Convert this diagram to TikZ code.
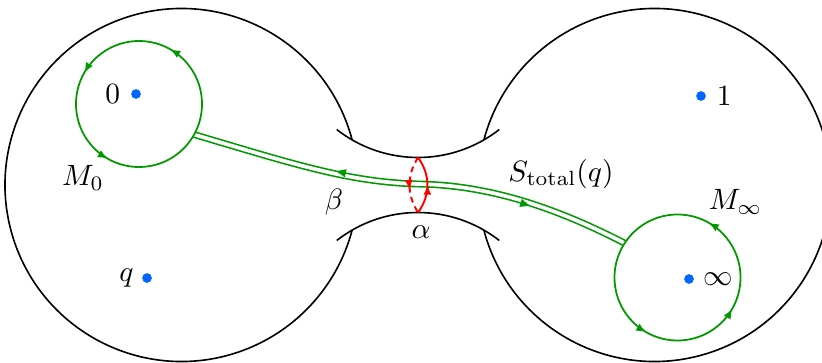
\documentclass[tikz,border=0pt]{standalone}
\usetikzlibrary{arrows.meta,decorations.markings}
\definecolor{mygreen}{RGB}{0,153,0}
\definecolor{myblue}{RGB}{0,102,255}
\tikzset{
  boundary/.style={black,line width=0.55pt},
  loopline/.style={color=mygreen,line width=0.6pt},
  dotnode/.style={circle,fill=myblue,inner sep=0pt,minimum size=3.3pt},
  gt/.tip={Latex[length=3.3pt,width=2.8pt]},
}
\begin{document}
\begin{tikzpicture}[x=0.34pt,y=0.34pt]
\clip (0,0) rectangle (822,362);
% big spheres
\draw[boundary] (181.5,177) ++(14.8:176.5) arc[start angle=14.8,end angle=345.2,radius=176.5];
\draw[boundary] (654.5,177) ++(-165.2:176.5) arc[start angle=-165.2,end angle=165.2,radius=176.5];
% neck
\draw[boundary] (418,336.5) ++(232:132) arc[start angle=232,end angle=308,radius=132];
\draw[boundary] (418,17.5) ++(128:132) arc[start angle=128,end angle=52,radius=132];

% coordinates
\coordinate (c0) at (139,258);
\coordinate (cinf) at (677.5,84.5);
\path (c0) ++(-29:63) coordinate (e0);
\path (cinf) ++(147:63) coordinate (einf);
\coordinate (neck) at (418,178);

% double path beta
\draw[color=mygreen,line width=0.55pt,double=white,double distance=1.25pt]
  (e0) .. controls (300,196) and (350,180) .. (neck) .. controls (480,177) and (545,160) .. (einf);
\path[postaction={decorate},decoration={markings,
  mark=at position 0.34 with {\fill[mygreen] (-1.7pt,0.9pt) -- (1.6pt,2.3pt) -- (1.6pt,-0.5pt) -- cycle;},
  mark=at position 0.76 with {\fill[mygreen] (1.7pt,-0.9pt) -- (-1.6pt,0.5pt) -- (-1.6pt,-2.3pt) -- cycle;}}]
  (e0) .. controls (300,196) and (350,180) .. (neck) .. controls (480,177) and (545,160) .. (einf);

% loops M0 and Minf
\draw[loopline, postaction={decorate}, decoration={markings,
  mark=at position 0.1667 with {\arrow{gt}},
  mark=at position 0.4167 with {\arrow{gt}},
  mark=at position 0.6667 with {\arrow{gt}}}]
  (c0) ++(0:63) arc[start angle=0,end angle=360,radius=63];
\draw[loopline, postaction={decorate}, decoration={markings,
  mark=at position 0.1667 with {\arrow{gt}},
  mark=at position 0.6667 with {\arrow{gt}},
  mark=at position 0.9167 with {\arrow{gt}}}]
  (cinf) ++(0:63) arc[start angle=0,end angle=360,radius=63];

% alpha
\coordinate (atop) at (418,204.5);
\coordinate (abot) at (418,149.5);
\draw[red,line width=0.65pt,postaction={decorate},decoration={markings,
  mark=at position 0.5 with {\arrow{gt}}}]
  (abot) to[bend right=36] (atop);
\draw[red,line width=0.65pt,dash pattern=on 2pt off 1.5pt,postaction={decorate},decoration={markings,
  mark=at position 0.58 with {\arrow{gt}}}]
  (atop) to[bend right=32] (abot);

% punctures
\node[dotnode] (p0) at (136,268) {};
\node[dotnode] (pq) at (147,84) {};
\node[dotnode] (p1) at (701,266) {};
\node[dotnode] (pinf) at (689,83) {};
\node[anchor=east] (l0) at (p0.west) {$0$};
\node[anchor=east] (lq) at ([xshift=0.8pt]pq.west) {$q$};
\node[anchor=west] (l1) at (p1.east) {$1$};
\node[anchor=west] (linf) at ([xshift=-0.6pt]pinf.east) {$\infty$};

% labels
\node (lM0) at (83,184) {$M_0$};
\node (lbeta) at (334,160) {$\beta$};
\node (lalpha) at (421,129.5) {$\alpha$};
\node (lS) at (561,188) {$S_{\mathrm{total}}(q)$};
\node (lMinf) at (735.5,160) {$M_\infty$};
\end{tikzpicture}
\end{document}
